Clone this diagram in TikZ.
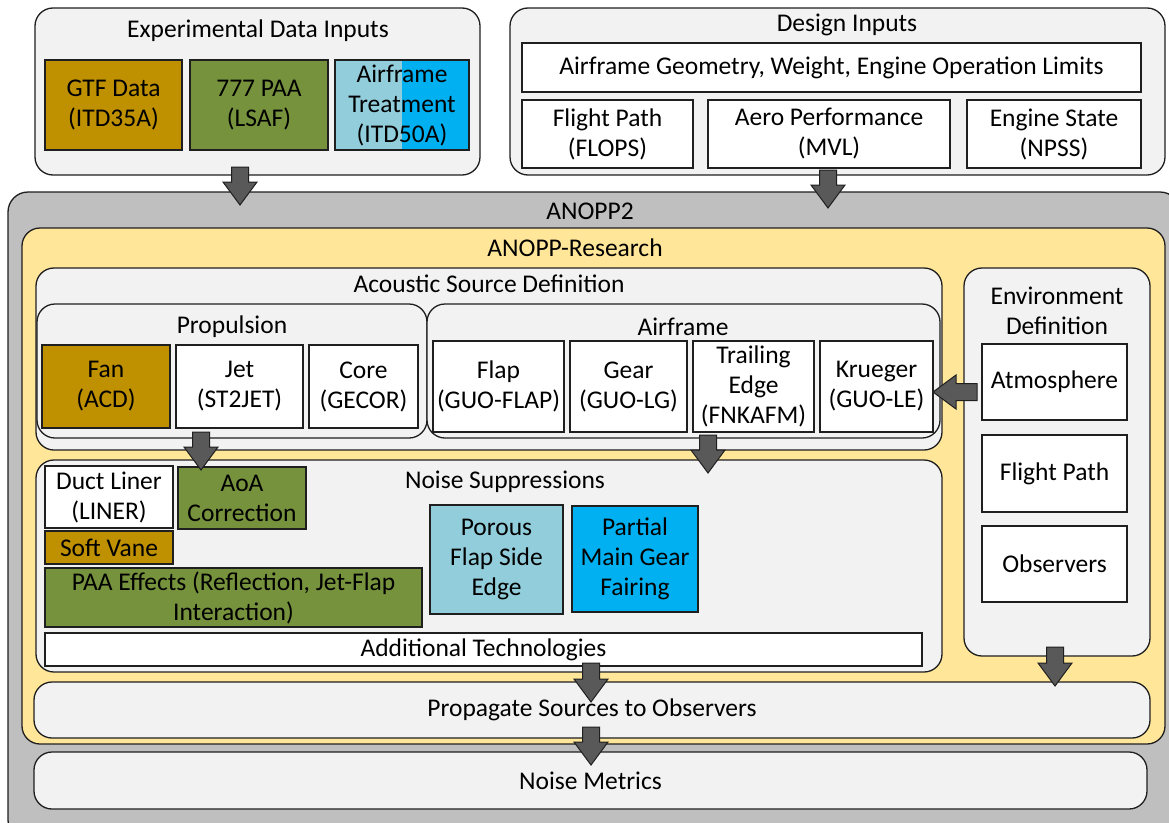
\documentclass[tikz,border=0pt]{standalone}
\usepackage{fontspec}
\setmainfont{Carlito}
\usetikzlibrary{calc}

\definecolor{edge}{HTML}{1F1F1F}
\definecolor{panel}{HTML}{F2F2F2}
\definecolor{outerfill}{HTML}{BFBFBF}
\definecolor{research}{HTML}{FFE699}
\definecolor{gold}{HTML}{BF9000}
\definecolor{olive}{HTML}{76923C}
\definecolor{paleblue}{HTML}{92CDDC}
\definecolor{brightblue}{HTML}{00B0F0}
\definecolor{arrowgray}{HTML}{595959}

% a box given by its corners (x1,y1)-(x2,y2), in pixel units, y downwards
\newcommand\blk[7]{%
  \node[#2, anchor=north west, minimum width={#5-#3}, minimum height={#6-#4}] (#1) at (#3,#4) {#7};}

% thick block arrows between two named coordinates
\newcommand\dnarrow[2]{%
  \path[blockarr] let \p1=(#1), \p2=(#2) in
    (\x1-8.5pt,\y1) -- (\x1+8.5pt,\y1) -- (\x1+8.5pt,\y2+23pt) -- (\x1+17pt,\y2+23pt)
    -- (\x1,\y2) -- (\x1-17pt,\y2+23pt) -- (\x1-8.5pt,\y2+23pt) -- cycle;}
\newcommand\lfarrow[2]{%
  \path[blockarr] let \p1=(#1), \p2=(#2) in
    (\x1,\y1+8.5pt) -- (\x1,\y1-8.5pt) -- (\x2+23pt,\y1-8.5pt) -- (\x2+23pt,\y1-17pt)
    -- (\x2,\y1) -- (\x2+23pt,\y1+17pt) -- (\x2+23pt,\y1+8.5pt) -- cycle;}

\begin{document}
\begin{tikzpicture}[x=1pt,y=-1pt,
  txt/.style={font=\fontsize{25.5}{30}\selectfont, align=center},
  box/.style={txt, draw=edge, line width=1.3pt, fill=white, inner sep=1pt, outer sep=0pt},
  panel/.style={box, fill=panel, rounded corners=18pt},
  title/.style={txt, inner sep=0pt},
  blockarr/.style={fill=arrowgray, draw=edge, line width=1pt, line join=miter},
]
\useasboundingbox (0,0) rectangle (1169,822);

% input panels
\blk{exp}{panel}{35}{8}{480}{175}{}
\node[title] (expT) at (258,31) {Experimental Data Inputs};
\blk{gtf}{box, fill=gold}{45}{60}{182}{150}{GTF Data\\(ITD35A)}
\blk{paa}{box, fill=olive}{190}{60}{328}{150}{777 PAA\\(LSAF)}
\blk{treat}{box, fill=brightblue, path picture={\fill[paleblue] (path picture bounding box.south west) rectangle (path picture bounding box.north);}}{335}{60}{469}{150}{Airframe\\Treatment\\(ITD50A)}

\blk{design}{panel}{510}{8}{1165}{175}{}
\node[title] (designT) at (847,25) {Design Inputs};
\blk{geom}{box}{522}{43}{1141}{92}{Airframe Geometry, Weight, Engine Operation Limits}
\blk{flops}{box}{522}{100}{693}{168}{Flight Path\\(FLOPS)}
\blk{mvl}{box}{708}{100}{950}{168}{Aero Performance\\(MVL)}
\blk{npss}{box}{967}{100}{1141}{168}{Engine State\\(NPSS)}

% ANOPP2
\blk{anopp}{panel, fill=outerfill, rounded corners=20pt}{8}{192}{1180}{840}{}
\node[title] (anoppT) at (590,211) {ANOPP2};
\blk{research}{panel, fill=research}{22}{228}{1165}{744}{}
\node[title] (researchT) at (575,248) {ANOPP-Research};

% acoustic sources
\blk{acoustic}{panel}{36}{268}{942}{450}{}
\node[title] (acousticT) at (489,284) {Acoustic Source Definition};
\blk{prop}{panel}{37}{304}{427}{438}{}
\node[title] (propT) at (232,327) {Propulsion};
\blk{fan}{box, fill=gold}{42}{345}{170}{428}{Fan\\(ACD)}
\blk{jet}{box}{176}{345}{303}{428}{Jet\\(ST2JET)}
\blk{core}{box}{309}{345}{418}{428}{Core\\(GECOR)}
\blk{airf}{panel}{427}{304}{940}{438}{}
\node[title] (airfT) at (683,327) {Airframe};
\blk{flap}{box}{433}{341}{564}{432}{Flap\\(GUO-FLAP)}
\blk{gear}{box}{570}{341}{687}{432}{Gear\\(GUO-LG)}
\blk{te}{box}{693}{341}{814}{432}{Trailing\\Edge\\(FNKAFM)}
\blk{krueger}{box}{820}{341}{933}{432}{Krueger\\(GUO-LE)}

% noise suppressions
\blk{supp}{panel}{36}{460}{942}{672}{}
\node[title] (suppT) at (505,482) {Noise Suppressions};
\blk{liner}{box}{45}{466}{173}{528}{Duct Liner\\(LINER)}
\blk{aoa}{box, fill=olive}{178}{467}{306}{529}{AoA\\Correction}
\blk{vane}{box, fill=gold}{45}{531}{173}{564}{Soft Vane}
\blk{paafx}{box, fill=olive}{45}{568}{422}{627}{PAA Effects (Reflection, Jet-Flap\\Interaction)}
\blk{porous}{box, fill=paleblue}{430}{505}{563}{614}{Porous\\Flap Side\\Edge}
\blk{fairing}{box, fill=brightblue}{572}{506}{698}{612}{Partial\\Main Gear\\Fairing}
\blk{addtech}{box}{45}{633}{922}{666}{Additional Technologies}

% environment
\blk{env}{panel}{964}{268}{1150}{656}{}
\node[title] (envT) at (1057,311) {Environment\\Definition};
\blk{atmo}{box}{982}{344}{1127}{420}{Atmosphere}
\blk{path}{box}{982}{435}{1127}{512}{Flight Path}
\blk{obs}{box}{982}{526}{1127}{602}{Observers}

% propagation and metrics
\blk{propag}{panel}{34}{682}{1150}{738}{Propagate Sources to Observers}
\blk{metrics}{panel}{34}{752}{1147}{809}{Noise Metrics}

% connectors
\coordinate (a1s) at (240,167);  \coordinate (a1e) at (240,205);
\coordinate (a2s) at (828,170);  \coordinate (a2e) at (828,208);
\coordinate (a3s) at (201,432);  \coordinate (a3e) at (201,470);
\coordinate (a4s) at (708,435);  \coordinate (a4e) at (708,473);
\coordinate (a5s) at (977,392);  \coordinate (a5e) at (933,392);
\coordinate (a6s) at (591,663);  \coordinate (a6e) at (591,702);
\coordinate (a7s) at (591,727);  \coordinate (a7e) at (591,765);
\coordinate (a8s) at (1055,647); \coordinate (a8e) at (1055,686);
\dnarrow{a1s}{a1e}
\dnarrow{a2s}{a2e}
\dnarrow{a3s}{a3e}
\dnarrow{a4s}{a4e}
\lfarrow{a5s}{a5e}
\dnarrow{a6s}{a6e}
\dnarrow{a7s}{a7e}
\dnarrow{a8s}{a8e}
\end{tikzpicture}
\end{document}
